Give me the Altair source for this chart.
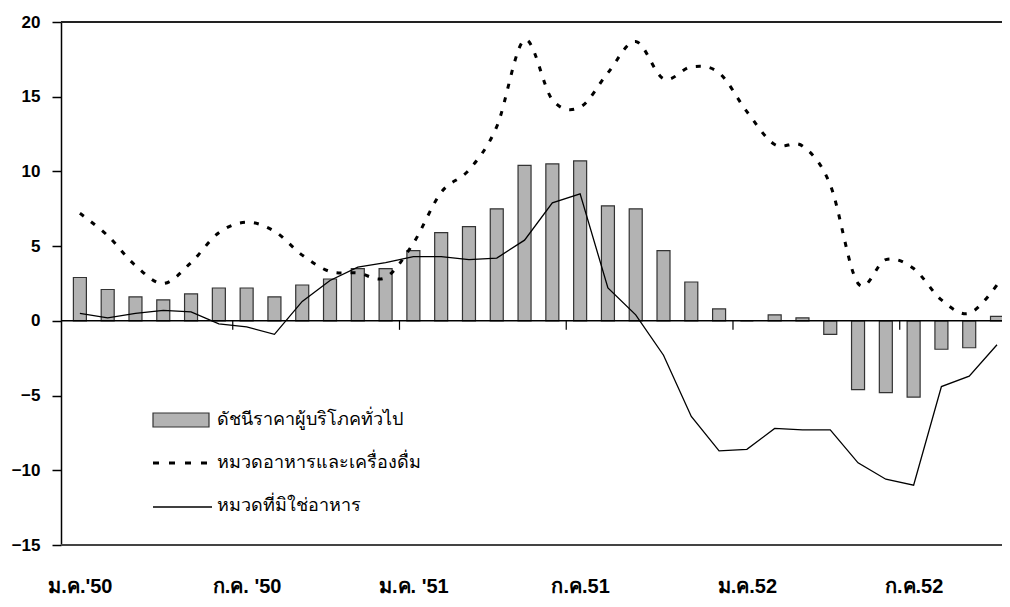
import json
import altair as alt
import pandas as pd

# ---- data ----
months = list(range(1, 35))
cpi = [2.9, 2.1, 1.6, 1.4, 1.8, 2.2, 2.2, 1.6, 2.4, 2.8,
       3.5, 3.5, 4.7, 5.9, 6.3, 7.5, 10.4, 10.5, 10.7, 7.7,
       7.5, 4.7, 2.6, 0.8, 0.0, 0.4, 0.2, -0.9, -4.6, -4.8,
       -5.1, -1.9, -1.8, 0.3]
food = [7.2, 5.7, 3.7, 2.5, 3.9, 5.9, 6.6, 6.0, 4.4, 3.3,
        3.2, 2.9, 5.2, 8.6, 10.1, 13.0, 18.8, 14.8, 14.3, 16.6,
        18.7, 16.2, 17.0, 16.6, 14.0, 11.8, 11.7, 9.1, 2.5, 4.1,
        3.5, 1.4, 0.5, 2.4]
nonfood = [0.5, 0.2, 0.5, 0.7, 0.6, -0.2, -0.4, -0.9, 1.3, 2.7,
           3.6, 3.9, 4.3, 4.3, 4.1, 4.2, 5.4, 7.9, 8.5, 2.2,
           0.4, -2.3, -6.4, -8.7, -8.6, -7.2, -7.3, -7.3, -9.5, -10.6,
           -11.0, -4.4, -3.7, -1.6]
label_months = [1, 7, 13, 19, 25, 31]
label_texts = ["ม.ค.'50", "ก.ค. '50", "ม.ค. '51", "ก.ค.51", "ม.ค.52", "ก.ค.52"]
boundaries = [6.5, 12.5, 18.5, 24.5, 30.5]
y_ticks = [-15, -10, -5, 0, 5, 10, 15, 20]
legend_labels = ["ดัชนีราคาผู้บริโภคทั่วไป", "หมวดอาหารและเครื่องดื่ม", "หมวดที่มิใช่อาหาร"]

df = pd.DataFrame({"m": months, "cpi": cpi, "food": food, "nonfood": nonfood})
df_b = pd.DataFrame({"b": boundaries})
df_zero = pd.DataFrame({"v": [0]})
df_top = pd.DataFrame({"v": [20]})
df_bot = pd.DataFrame({"v": [-15]})
df_one = pd.DataFrame({"k": [0]})

FONT = "Liberation Sans"

expr = ""
for mth, txt in zip(label_months, label_texts):
    expr += f"datum.value == {mth} ? {json.dumps(txt)} : "
expr += "''"

xs = alt.Scale(domain=[0.5, 34.0], nice=False, zero=False)
ys = alt.Scale(domain=[-15, 20], nice=False, zero=False)

x_enc = alt.X(
    "m:Q", scale=xs, title=None,
    axis=alt.Axis(values=label_months, labelExpr=expr, domain=False, ticks=False,
                  tickSize=0, grid=False, labelPadding=47, labelFontSize=20,
                  labelFontWeight="bold", labelFont=FONT, labelColor="black",
                  labelBaseline="alphabetic", labelFlush=False, labelOverlap=False),
)
y_enc = alt.Y(
    "cpi:Q", scale=ys, title=None,
    axis=alt.Axis(values=y_ticks, grid=False, tickSize=9, tickWidth=1.5,
                  tickColor="black", domainColor="black", domainWidth=1.5,
                  labelPadding=12, labelFontSize=17, labelFontWeight="bold",
                  labelFont=FONT, labelColor="black", labelFlush=False),
)

bars = alt.Chart(df).mark_bar(
    width=13, color="#b3b3b3", stroke="#333333", strokeWidth=1.2, clip=True
).encode(x=x_enc, y=y_enc, y2=alt.datum(0))

zero = alt.Chart(df_zero).mark_rule(color="black", strokeWidth=1.5).encode(
    y=alt.Y("v:Q", scale=ys))
top = alt.Chart(df_top).mark_rule(color="#222222", strokeWidth=2).encode(
    y=alt.Y("v:Q", scale=ys))
bot = alt.Chart(df_bot).mark_rule(color="#444444", strokeWidth=2).encode(
    y=alt.Y("v:Q", scale=ys))

ticks = alt.Chart(df_b).mark_rule(color="black", strokeWidth=1.2).encode(
    x=alt.X("b:Q", scale=xs), y=alt.datum(0), y2=alt.datum(-0.6))

line_nf = alt.Chart(df).mark_line(color="black", strokeWidth=1.3, clip=True).encode(
    x=alt.X("m:Q", scale=xs), y=alt.Y("nonfood:Q", scale=ys))
line_food = alt.Chart(df).mark_line(
    color="black", strokeWidth=3, strokeDash=[5, 9], interpolate="cardinal", clip=True
).encode(x=alt.X("m:Q", scale=xs), y=alt.Y("food:Q", scale=ys))

# ---- legend (drawn inside the plot, lower left) ----
leg_rect = alt.Chart(df_one).mark_rect(color="#b3b3b3", stroke="#333333", strokeWidth=1.2).encode(
    x=alt.value(92), x2=alt.value(148), y=alt.value(391), y2=alt.value(405))
leg_dash = alt.Chart(df_one).mark_rule(color="black", strokeWidth=3, strokeDash=[6, 10]).encode(
    x=alt.value(92), x2=alt.value(152), y=alt.value(441))
leg_line = alt.Chart(df_one).mark_rule(color="black", strokeWidth=1.3).encode(
    x=alt.value(92), x2=alt.value(151), y=alt.value(485))
leg_t1 = alt.Chart(df_one).mark_text(text=legend_labels[0], align="left", baseline="middle",
                                     fontSize=18, font=FONT, color="black").encode(
    x=alt.value(156), y=alt.value(398))
leg_t2 = alt.Chart(df_one).mark_text(text=legend_labels[1], align="left", baseline="middle",
                                     fontSize=18, font=FONT, color="black").encode(
    x=alt.value(156), y=alt.value(441))
leg_t3 = alt.Chart(df_one).mark_text(text=legend_labels[2], align="left", baseline="middle",
                                     fontSize=18, font=FONT, color="black").encode(
    x=alt.value(156), y=alt.value(484))

chart = alt.layer(
    bars, zero, top, bot, ticks, line_nf, line_food,
    leg_rect, leg_dash, leg_line, leg_t1, leg_t2, leg_t3
).properties(
    width=941, height=523,
    padding={"left": 53, "top": 14, "right": 0, "bottom": 54},
    autosize=alt.AutoSizeParams(type="none"),
    background="white",
).configure_view(stroke=None)

chart.save("out.html", embed_options={"renderer": "svg", "actions": False})
